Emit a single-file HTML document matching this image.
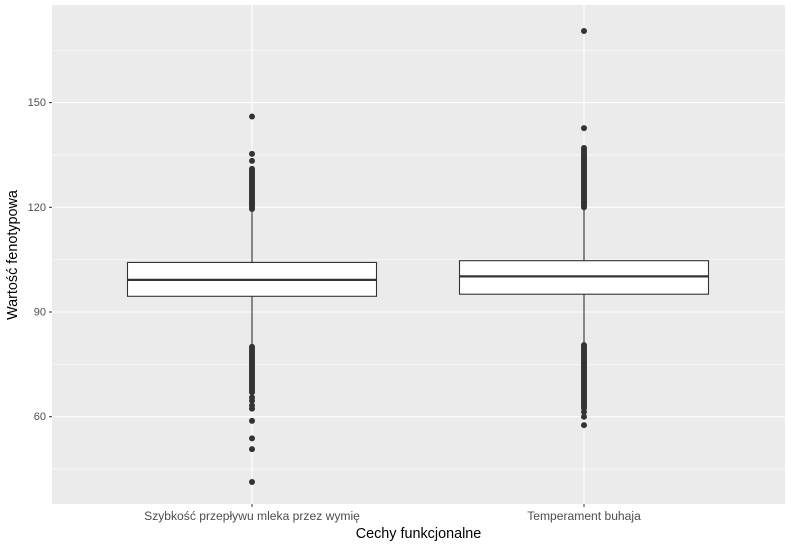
<!DOCTYPE html>
<html><head><meta charset="utf-8"><style>
body{margin:0;background:#fff;font-family:"Liberation Sans","DejaVu Sans",sans-serif}
</style></head><body>
<svg id="chart" width="791" height="549" xmlns="http://www.w3.org/2000/svg"></svg>
<script>
const categories=["Szybkość przepływu mleka przez wymię","Temperament buhaja"];
const q1=[94.5,95.1];
const medians=[99.2,100.2];
const q3=[104.2,104.7];
const whiskerLow=[80.4,80.6];
const whiskerHigh=[118.6,119.6];
const outliers1=[146,135.3,133.3,131,130.5,130,129.5,129,128.5,128,127.5,127,126.5,126,125.5,125,124.5,124,123.5,123,122.5,122,121.5,121,120.5,120,119.5,80,79.5,79,78.5,78,77.5,77,76.5,76,75.5,75,74.5,74,73.5,73,72.5,72,71.5,71,70.5,70,69.5,69,68.5,68,67.5,67,65.5,64.6,63.2,62.3,58.8,53.8,50.7,41.3];
const outliers2=[170.5,142.7,137,136.5,136,135.5,135,134.5,134,133.5,133,132.5,132,131.5,131,130.5,130,129.5,129,128.5,128,127.5,127,126.5,126,125.5,125,124.5,124,123.5,123,122.5,122,121.5,121,120.5,120,80.5,80,79.5,79,78.5,78,77.5,77,76.5,76,75.5,75,74.5,74,73.5,73,72.5,72,71.5,71,70.5,70,69.5,69,68.5,68,67.5,67,66.5,66,65.5,65,64.5,64,63.5,63,62.5,61.4,60,57.6];
const outliers=[outliers1,outliers2];
const yTicks=[60,90,120,150];
const yMinor=[45,75,105,135,165];

const svg=document.getElementById('chart');
const NS='http://www.w3.org/2000/svg';
const L=52,R=785,T=5,B=504;
const y=v=>312-(v-90)*(104.7/30);
const xc=i=>[252,584][i];
const halfW=124.5;
function mk(t,a,p){const e=document.createElementNS(NS,t);for(const k in a)e.setAttribute(k,a[k]);(p||svg).appendChild(e);return e;}

const bg=mk('rect',{x:L,y:T,width:R-L,height:B-T,fill:'#ebebeb'});


yMinor.forEach(v=>{const yy=y(v);if(yy>T&&yy<B){const l=mk('line',{x1:L,x2:R,y1:yy,y2:yy,stroke:'#fff','stroke-width':0.55});

}});
yTicks.forEach(v=>{const yy=y(v);const l=mk('line',{x1:L,x2:R,y1:yy,y2:yy,stroke:'#fff','stroke-width':1.1});


const tk=mk('line',{x1:L-3,x2:L,y1:yy,y2:yy,stroke:'#333','stroke-width':1});


const t=mk('text',{x:L-6,y:yy+3.5,'text-anchor':'end','font-size':11,fill:'#4d4d4d'});t.textContent=v;

});
categories.forEach((c,i)=>{const x=xc(i);
const g=mk('line',{x1:x,x2:x,y1:T,y2:B,stroke:'#fff','stroke-width':1.1});


const w=mk('line',{x1:x,x2:x,y1:y(whiskerHigh[i]),y2:y(whiskerLow[i]),stroke:'#333','stroke-width':1.1});


const bx=mk('rect',{x:x-halfW,y:y(q3[i]),width:2*halfW,height:y(q1[i])-y(q3[i]),fill:'#fff',stroke:'#333','stroke-width':1.1});


const md=mk('line',{x1:x-halfW,x2:x+halfW,y1:y(medians[i]),y2:y(medians[i]),stroke:'#333','stroke-width':2.3});


outliers[i].forEach(v=>{const p=mk('circle',{cx:x,cy:y(v),r:3,fill:'#333'});

});
const tk=mk('line',{x1:x,x2:x,y1:B,y2:B+3,stroke:'#333','stroke-width':1});


const t=mk('text',{x:x,y:B+16,'text-anchor':'middle','font-size':12.1,fill:'#4d4d4d'});t.textContent=c;

});
const xt=mk('text',{x:418.5,y:538,'text-anchor':'middle','font-size':14.4,fill:'#000'});xt.textContent='Cechy funkcjonalne';


const yt=mk('text',{x:0,y:0,'text-anchor':'middle','font-size':14.4,fill:'#000',transform:'translate(17,255) rotate(-90)'});yt.textContent='Wartość fenotypowa';


</script>
</body></html>
